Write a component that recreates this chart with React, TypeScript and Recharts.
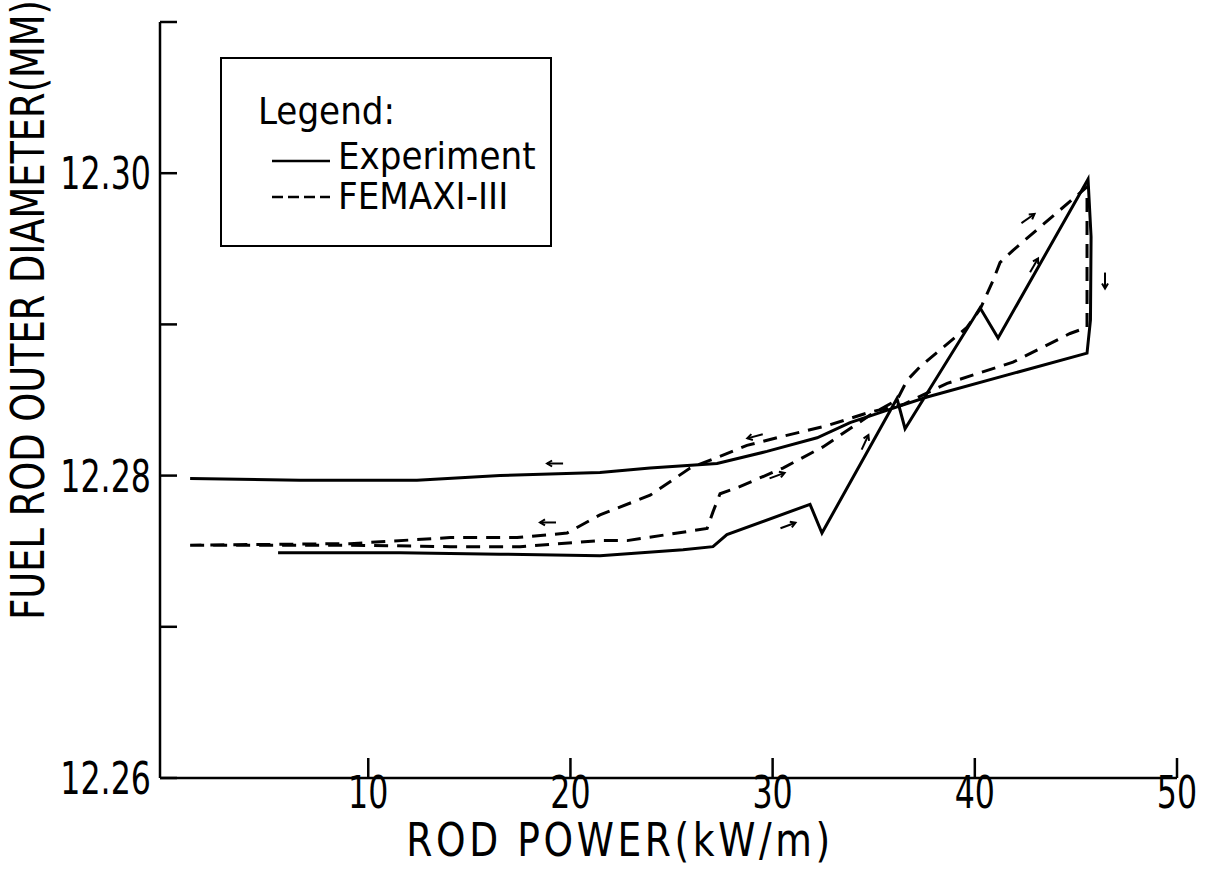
import React from "react";
import { ComposedChart, Line, XAxis, YAxis, Legend, ReferenceDot } from "recharts";

const FONT = "'DejaVu Sans', sans-serif";
const COND = "'DejaVu Sans Condensed', 'DejaVu Sans', sans-serif";

// Experiment: power ramp up, then back down (kW/m, mm)
const expPower = [
  5.54, 11.57, 16.52, 21.46, 25.57, 27.05, 27.74, 31.85, 32.44, 36.15, 36.55, 40.26, 41.15, 45.6,
  45.75, 45.72, 45.55, 37.64, 36.05, 33.83, 32.2, 29.72, 27.25, 23.94, 21.46, 16.52, 12.41, 6.63, 1.19,
];
const expDiameter = [
  12.2749, 12.2749, 12.2748, 12.2747, 12.2751, 12.2753, 12.2761, 12.2781, 12.2762, 12.2851, 12.2831, 12.2911, 12.2891, 12.2996,
  12.2958, 12.2903, 12.2881, 12.2852, 12.2845, 12.2835, 12.2825, 12.2816, 12.2808, 12.2805, 12.2802, 12.28, 12.2797, 12.2797, 12.2798,
];

// FEMAXI-III calculation
const femPower = [
  1.19, 9.1, 14.05, 17.51, 21.46, 22.8, 26.76, 27.05, 27.4, 28.24, 30.51, 32.49, 34.82, 36.15, 36.65, 37.29, 39.61, 40.26, 40.9, 41.25, 41.89, 45.55,
  45.55, 44.71, 41.89, 38.63, 36.45, 34.82, 32.69, 30.51, 28.73, 27.25, 25.92, 23.94, 21.46, 19.83, 17.36, 14.05, 9.1, 1.19,
];
const femDiameter = [
  12.2754, 12.2754, 12.2753, 12.2753, 12.2757, 12.2757, 12.2765, 12.2776, 12.2788, 12.2792, 12.2805, 12.2819, 12.284, 12.285, 12.2863, 12.2872, 12.2898, 12.291, 12.2929, 12.2941, 12.2949, 12.2991,
  12.2898, 12.2894, 12.2875, 12.2861, 12.2847, 12.2842, 12.2833, 12.2826, 12.282, 12.2812, 12.2805, 12.2787, 12.2774, 12.2762, 12.2759, 12.2759, 12.2755, 12.2754,
];

// little direction arrows drawn along the curves (position + heading in degrees, screen frame)
const arrowPower = [19.24, 18.89, 29.13, 30.22, 30.76, 34.57, 42.93, 46.44, 42.63];
const arrowDiameter = [12.2808, 12.2769, 12.2826, 12.28, 12.2767, 12.2822, 12.2939, 12.2929, 12.297];
const arrowHeading = [180, 180, 165, -20, -20, -65, -60, 90, -35];

const xTicks = [10, 20, 30, 40, 50];
const yTicks = [12.26, 12.27, 12.28, 12.29, 12.3, 12.31];
const yTickLabels = ["12.26", "", "12.28", "", "12.30", ""];

const seriesNames = ["Experiment", "FEMAXI-III"];

const expData = expPower.map((p, i) => ({ p, d: expDiameter[i] }));
const femData = femPower.map((p, i) => ({ p, d: femDiameter[i] }));

// the original lettering is a narrow stencil face, so squeeze DejaVu sideways
const NarrowText = ({ x, y, sx = 0.72, rotate = 0, children, ...rest }: any) => (
  <text
    transform={`translate(${x},${y}) rotate(${rotate}) scale(${sx},1)`}
    fontFamily={FONT}
    fill="#000"
    {...rest}
  >
    {children}
  </text>
);

const YTick = (props: any) => {
  const { x, y, index } = props;
  const label = yTickLabels[index];
  return (
    <g>
      <line x1={x} x2={x + 17} y1={y} y2={y} stroke="#000" strokeWidth={2.5} />
      {label && (
        <NarrowText x={x - 9} y={y + 16} textAnchor="end" fontSize={44}>
          {label}
        </NarrowText>
      )}
    </g>
  );
};

const XTick = (props: any) => {
  const { x, y, payload } = props;
  return (
    <g>
      <line x1={x} x2={x} y1={y} y2={y - 20} stroke="#000" strokeWidth={2.5} />
      <NarrowText x={x} y={y + 30} textAnchor="middle" fontSize={44}>
        {payload.value}
      </NarrowText>
    </g>
  );
};

const arrowShape = (angle: number) => (props: any) => {
  const { cx, cy } = props;
  return (
    <g transform={`translate(${cx},${cy}) rotate(${angle})`} stroke="#000" strokeWidth={2} fill="none">
      <line x1={-8} y1={0} x2={8} y2={0} />
      <polyline points="3,-3 8,0 3,3" />
    </g>
  );
};

const renderLegend = () => (
  <div
    style={{
      width: 332,
      height: 190,
      border: "2.5px solid #000",
      boxSizing: "border-box",
      fontFamily: COND,
      fontSize: 38,
      lineHeight: 1,
      position: "relative",
      background: "#fff",
    }}
  >
    <div style={{ position: "absolute", left: 36, top: 33 }}>Legend:</div>
    {seriesNames.map((name, i) => (
      <React.Fragment key={name}>
        <svg width={60} height={8} style={{ position: "absolute", left: 50, top: 98 + i * 36 }}>
          <line x1={0} x2={58} y1={4} y2={4} stroke="#000" strokeWidth={2.5} strokeDasharray={i === 1 ? "11 5" : undefined} />
        </svg>
        <div style={{ position: "absolute", left: 116, top: 78 + i * 40 }}>{name}</div>
      </React.Fragment>
    ))}
  </div>
);

export default function App() {
  return (
    <div style={{ position: "absolute", left: 0, top: 0, background: "#fff" }}>
      <ComposedChart width={1206} height={872} margin={{ top: 22, right: 29, left: 0, bottom: 0 }}>
        <XAxis
          dataKey="p"
          type="number"
          domain={[-0.3, 50]}
          ticks={xTicks}
          tick={<XTick />}
          tickSize={0}
          tickMargin={0}
          tickLine={false}
          height={94}
          axisLine={{ stroke: "#000", strokeWidth: 2.5 }}
          label={{
            content: () => (
              <NarrowText x={620} y={856} sx={0.8} textAnchor="middle" fontSize={47} letterSpacing={4.5}>
                {"ROD  POWER(kW/m)"}
              </NarrowText>
            ),
          }}
        />
        <YAxis
          type="number"
          domain={[12.26, 12.31]}
          ticks={yTicks}
          tick={<YTick />}
          tickSize={0}
          tickMargin={0}
          tickLine={false}
          width={160}
          interval={0}
          axisLine={{ stroke: "#000", strokeWidth: 2.5 }}
          label={{
            content: () => (
              <NarrowText x={44} y={310} rotate={-90} sx={0.8} textAnchor="middle" fontSize={46}>
                FUEL ROD OUTER DIAMETER(MM)
              </NarrowText>
            ),
          }}
        />
        <Legend
          layout="vertical"
          align="center"
          verticalAlign="middle"
          wrapperStyle={{ left: 220, top: 57, width: 332 }}
          content={renderLegend}
        />
        <Line
          name={seriesNames[0]}
          data={expData}
          dataKey="d"
          type="linear"
          stroke="#000"
          strokeWidth={3}
          dot={false}
          isAnimationActive={false}
        />
        <Line
          name={seriesNames[1]}
          data={femData}
          dataKey="d"
          type="linear"
          stroke="#000"
          strokeWidth={3}
          strokeDasharray="14 9"
          dot={false}
          isAnimationActive={false}
        />
        {arrowPower.map((p, i) => (
          <ReferenceDot key={i} x={p} y={arrowDiameter[i]} r={8} shape={arrowShape(arrowHeading[i])} />
        ))}
      </ComposedChart>
    </div>
  );
}
